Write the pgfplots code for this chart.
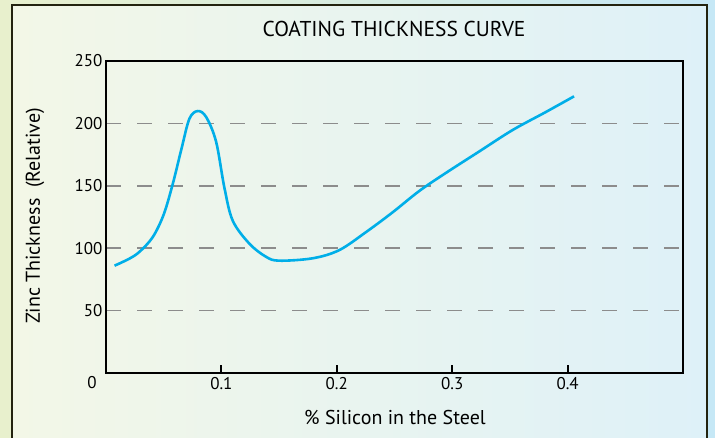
\documentclass[border=0pt]{standalone}
\usepackage{pgfplots}
\pgfplotsset{compat=1.18}
\usepackage{fontspec}
\setmainfont{PT Sans}
\definecolor{curve}{RGB}{0,174,232}
\definecolor{gridgray}{RGB}{140,140,140}
\definecolor{inL}{RGB}{243,247,231}
\definecolor{inR}{RGB}{222,241,248}
\definecolor{outL}{RGB}{232,240,205}
\definecolor{outR}{RGB}{198,232,246}
\definecolor{frame}{RGB}{35,35,15}
\pgfplotstableread{
x y
0.0074 86.0
0.020 91.5
0.029 97.1
0.0405 108.9
0.050 127
0.058 152
0.0655 180
0.0723 203.8
0.0795 209.9
0.0868 205.1
0.0954 185.4
0.1026 148.5
0.1098 122.1
0.1242 103.7
0.1387 93.1
0.150 90.0
0.179 91.9
0.202 98.4
0.2253 112.9
0.2483 128.7
0.2714 145.8
0.2945 160.3
0.3234 177.5
0.3522 194.6
0.3811 209.1
0.4056 221.7
}\coating
\begin{document}
\begin{tikzpicture}[x=1pt,y=1pt]
\useasboundingbox (0,0) rectangle (715,437);
\shade[left color=outL, right color=outR] (0,0) rectangle (715,437);
\shade[left color=inL, right color=inR] (12,-10) rectangle (707,432);
\draw[line width=2.5pt, frame] (12,-10) rectangle (707,432);
\begin{axis}[
  at={(106pt,64pt)}, anchor=south west,
  scale only axis, width=577pt, height=312pt,
  xmin=0, xmax=0.5, ymin=0, ymax=250,
  xtick={0.1,0.2,0.3,0.4}, xticklabels={0.1,0.2,0.3,0.4},
  ytick={50,100,150,200,250},
  xtick pos=bottom, ytick pos=left,
  tick align=inside,
  major tick length=8pt,
  xtick style={line width=2pt, black},
  ytick style={draw=none},
  axis line style={line width=2.5pt, black},
  ymajorgrids,
  major grid style={gridgray, line width=1.6pt, dash pattern=on 15pt off 16pt},
  /pgf/number format/assume math mode=true,
  tick label style={font=\fontsize{17}{17}\selectfont},
  yticklabel style={xshift=0pt},
  xticklabel style={yshift=-1pt},
  clip=false,
]
\addplot[curve, line width=2.6pt, smooth, tension=0.55] table[x=x,y=y] {\coating};
\end{axis}
\node[font=\fontsize{17}{17}\selectfont] at (92,54) {0};
\node[font=\fontsize{21.5}{21.5}\selectfont] at (394,408) {COATING THICKNESS CURVE};
\node[font=\fontsize{20}{20}\selectfont] at (395,20) {\% Silicon in the Steel};
\node[font=\fontsize{20}{20}\selectfont, rotate=90] at (35,221) {Zinc Thickness\ \ (Relative)};
\end{tikzpicture}
\end{document}
